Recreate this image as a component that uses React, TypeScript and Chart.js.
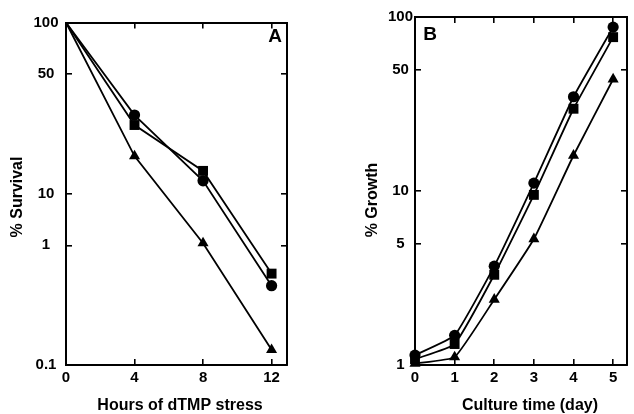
import React, { useEffect, useRef } from "react";
import { Chart, registerables, LogarithmicScale } from "chart.js";

// ---------- data ----------
const hoursA = [0, 4, 8, 12];
const survivalCircle = [100, 28.8, 11.9, 0.46];
const survivalSquare = [100, 25.2, 13.6, 0.58];
const survivalTriangle = [100, 16.6, 1.1, 0.134];
const hourTicks = [0, 4, 8, 12];

// printed tick labels of panel A and where the figure places them on its log grid
const survivalTicks = [0.1, 1, 10, 50, 100];
const survivalTickGrid = [1, 5, 10, 50, 100];

const daysB = [0, 1, 2, 3, 4, 5];
const growthCircle = [1.14, 1.48, 3.7, 11.1, 34.8, 87.5];
const growthSquare = [1.08, 1.32, 3.3, 9.5, 29.7, 76.6];
const growthTriangle = [1.02, 1.11, 2.38, 5.3, 16.0, 43.9];
const growthTicks = [1, 5, 10, 50, 100];

// ---------- custom scale: log axis with printed tick labels anchored on a log grid ----------
class AnchoredLogScale extends (LogarithmicScale as any) {
  static id = "anchoredLog";
  static defaults = (LogarithmicScale as any).defaults;

  toBase(v: number) {
    const lab: number[] = (this as any).options.tickValues;
    const grid: number[] | undefined = (this as any).options.tickGrid;
    if (!grid || !lab || v == null || v <= 0) return v;
    const lv = Math.log10(v);
    let i = 0;
    while (i < lab.length - 2 && v > lab[i + 1]) i++;
    const l0 = Math.log10(lab[i]);
    const l1 = Math.log10(lab[i + 1]);
    const g0 = Math.log10(grid[i]);
    const g1 = Math.log10(grid[i + 1]);
    const t = (lv - l0) / (l1 - l0);
    return Math.pow(10, g0 + t * (g1 - g0));
  }
  fromBase(b: number) {
    const lab: number[] = (this as any).options.tickValues;
    const grid: number[] | undefined = (this as any).options.tickGrid;
    if (!grid || !lab || b == null || b <= 0) return b;
    const lb = Math.log10(b);
    let i = 0;
    while (i < grid.length - 2 && b > grid[i + 1]) i++;
    const l0 = Math.log10(lab[i]);
    const l1 = Math.log10(lab[i + 1]);
    const g0 = Math.log10(grid[i]);
    const g1 = Math.log10(grid[i + 1]);
    const t = (lb - g0) / (g1 - g0);
    return Math.pow(10, l0 + t * (l1 - l0));
  }
  getPixelForValue(value: number) {
    return super.getPixelForValue(this.toBase(value));
  }
  getValueForPixel(pixel: number) {
    return this.fromBase(super.getValueForPixel(pixel));
  }
  buildTicks() {
    const lab: number[] = (this as any).options.tickValues;
    return lab.map((v) => ({ value: v }));
  }
}

Chart.register(...registerables, AnchoredLogScale as any);
Chart.defaults.font.family = "'Liberation Sans', Arial, sans-serif";
Chart.defaults.color = "#000";

const FONT_TICK = { family: "'Liberation Sans', Arial, sans-serif", size: 15, weight: "bold" as const };

type TextItem = { text: string; x: number; y: number; rot?: number; size: number };

function textPlugin(items: TextItem[]) {
  return {
    id: "panelText",
    afterDraw(chart: any) {
      const ctx = chart.ctx as CanvasRenderingContext2D;
      ctx.save();
      ctx.fillStyle = "#000";
      ctx.textAlign = "center";
      ctx.textBaseline = "middle";
      for (const t of items) {
        ctx.save();
        ctx.font = `bold ${t.size}px 'Liberation Sans', Arial, sans-serif`;
        ctx.translate(t.x, t.y);
        if (t.rot) ctx.rotate(t.rot);
        ctx.fillText(t.text, 0, 0);
        ctx.restore();
      }
      ctx.restore();
    },
  };
}

function series(xs: number[], ys: number[], style: string, radius: number, skipFirst: boolean, tension: number) {
  return {
    data: xs.map((x, i) => ({ x, y: ys[i] })),
    borderColor: "#000",
    backgroundColor: "#000",
    borderWidth: 1.8,
    pointStyle: style,
    pointRadius: xs.map((_, i) => (skipFirst && i === 0 ? 0 : radius)),
    pointBackgroundColor: "#000",
    pointBorderColor: "#000",
    pointBorderWidth: 0,
    tension,
    clip: false as any,
    fill: false,
  };
}

function axisCommon() {
  return {
    border: { display: true, width: 2, color: "#000" },
    grid: { drawOnChartArea: false, drawTicks: true, tickLength: -6, color: "#000", lineWidth: 1.6 },
  };
}

function makeConfig(opts: {
  datasets: any[];
  xMax: number;
  xStep: number;
  xTicks: number[];
  yTicks: number[];
  yGrid?: number[];
  yLabelPad: number;
  yWidth: number;
  padding: any;
  xHeight: number;
  texts: TextItem[];
}): any {
  const yBase = {
    type: "anchoredLog",
    min: 1,
    max: 100,
    tickValues: opts.yTicks,
    tickGrid: opts.yGrid,
  };
  return {
    type: "line",
    data: { datasets: opts.datasets },
    options: {
      responsive: false,
      animation: false,
      events: [],
      layout: { padding: opts.padding },
      plugins: { legend: { display: false }, tooltip: { enabled: false } },
      scales: {
        x: {
          type: "linear",
          position: "bottom",
          min: 0,
          max: opts.xMax,
          ...axisCommon(),
          ticks: {
            stepSize: opts.xStep,
            includeBounds: false,
            autoSkip: false,
            maxRotation: 0,
            font: FONT_TICK,
            color: "#000",
            padding: 10,
            callback: (v: number) => (opts.xTicks.includes(v) ? String(v) : ""),
          },
          afterFit: (s: any) => {
            s.height = opts.xHeight;
          },
        },
        x2: {
          type: "linear",
          axis: "x",
          position: "top",
          min: 0,
          max: opts.xMax,
          ...axisCommon(),
          ticks: { stepSize: opts.xStep, includeBounds: false, display: false },
          afterFit: (s: any) => {
            s.height = 0;
          },
        },
        y: {
          ...yBase,
          position: "left",
          ...axisCommon(),
          ticks: {
            autoSkip: false,
            font: FONT_TICK,
            color: "#000",
            padding: opts.yLabelPad,
            crossAlign: "center",
            callback: (v: number) => String(v),
          },
          afterFit: (s: any) => {
            s.width = opts.yWidth;
          },
        },
        y2: {
          ...yBase,
          axis: "y",
          position: "right",
          ...axisCommon(),
          ticks: { display: false, autoSkip: false },
          afterFit: (s: any) => {
            s.width = 0;
          },
        },
      },
    },
    plugins: [textPlugin(opts.texts)],
  };
}

export default function App() {
  const refA = useRef<HTMLCanvasElement>(null);
  const refB = useRef<HTMLCanvasElement>(null);

  useEffect(() => {
    const cfgA = makeConfig({
      datasets: [
        series(hoursA, survivalCircle, "circle", 5.6, true, 0),
        series(hoursA, survivalSquare, "rect", 7, true, 0),
        series(hoursA, survivalTriangle, "triangle", 6.4, true, 0),
      ],
      xMax: 12.9,
      xStep: 4,
      xTicks: hourTicks,
      yTicks: survivalTicks,
      yGrid: survivalTickGrid,
      yLabelPad: 13.5,
      yWidth: 66,
      padding: { left: 0, top: 13, right: 30, bottom: 0 },
      xHeight: 49,
      texts: [
        { text: "% Survival", x: 18, y: 197, rot: -Math.PI / 2, size: 16 },
        { text: "Hours of dTMP stress", x: 180, y: 406, size: 16 },
        { text: "A", x: 275, y: 37, size: 19 },
      ],
    });
    const cfgB = makeConfig({
      datasets: [
        series(daysB, growthCircle, "circle", 5.6, false, 0.12),
        series(daysB, growthSquare, "rect", 7, false, 0.12),
        series(daysB, growthTriangle, "triangle", 6.4, false, 0.12),
      ],
      xMax: 5.35,
      xStep: 1,
      xTicks: daysB,
      yTicks: growthTicks,
      yLabelPad: 8,
      yWidth: 98,
      padding: { left: 0, top: 16, right: 4, bottom: 0 },
      xHeight: 49,
      texts: [
        { text: "% Growth", x: 56, y: 200, rot: -Math.PI / 2, size: 16 },
        { text: "Culture time (day)", x: 213, y: 406, size: 16 },
        { text: "B", x: 113, y: 35, size: 19 },
      ],
    });
    const a = new Chart(refA.current as HTMLCanvasElement, cfgA);
    const b = new Chart(refB.current as HTMLCanvasElement, cfgB);
    return () => {
      a.destroy();
      b.destroy();
    };
  }, []);

  return (
    <div style={{ position: "fixed", left: 0, top: 0, width: 634, height: 414, background: "#fff" }}>
      <canvas ref={refA} width={317} height={414} style={{ position: "absolute", left: 0, top: 0, width: 317, height: 414 }} />
      <canvas ref={refB} width={317} height={414} style={{ position: "absolute", left: 317, top: 0, width: 317, height: 414 }} />
    </div>
  );
}
